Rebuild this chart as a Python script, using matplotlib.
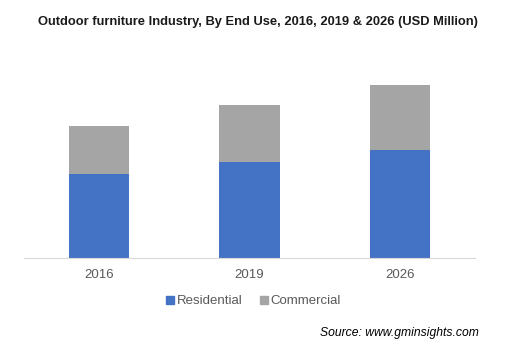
import matplotlib
matplotlib.use("Agg")
import matplotlib.pyplot as plt
from matplotlib.lines import Line2D

# --- data (USD Million) ---
years = ["2016", "2019", "2026"]
residential = [4200, 4800, 5400]
commercial = [2400, 2850, 3250]

plt.rcParams['font.family'] = ['Liberation Sans', 'DejaVu Sans']

fig = plt.figure(figsize=(5.11, 3.55), dpi=100)
ax = fig.add_axes([24 / 511, 97 / 355, 451 / 511, 198 / 355])

x = range(len(years))
ax.bar(x, residential, width=0.4, color='#4472C4', label='Residential')
ax.bar(x, commercial, width=0.4, bottom=residential, color='#A5A5A5', label='Commercial')

ax.set_xlim(-0.5, 2.5)
ax.set_ylim(0, 9900)
ax.set_xticks(list(x))
ax.set_xticklabels(years, fontsize=9.5, color='#595959')
ax.set_yticks([])
ax.tick_params(axis='x', length=0, pad=8)
for side in ['top', 'right', 'left']:
    ax.spines[side].set_visible(False)
ax.spines['bottom'].set_color('#D9D9D9')

fig.text(0.504, 1 - 22 / 355, 'Outdoor furniture Industry, By End Use, 2016, 2019 & 2026 (USD Million)',
         ha='center', va='center', fontsize=9.3, fontweight='bold', color='#1a1a1a')

handles = [Line2D([], [], marker='s', linestyle='', color='#4472C4', markersize=5.5),
           Line2D([], [], marker='s', linestyle='', color='#A5A5A5', markersize=5.5)]
fig.legend(handles, ['Residential', 'Commercial'], loc='center', bbox_to_anchor=(252 / 511, 1 - 301 / 355),
           ncol=2, frameon=False, fontsize=9.5, labelcolor='#595959', handletextpad=0.0,
           columnspacing=1.1, handlelength=1.0)

fig.text(479 / 511, 1 - 333 / 355, 'Source: www.gminsights.com', ha='right', va='center',
         fontsize=8.7, style='italic', color='black')

plt.savefig('out.png', dpi=100)
